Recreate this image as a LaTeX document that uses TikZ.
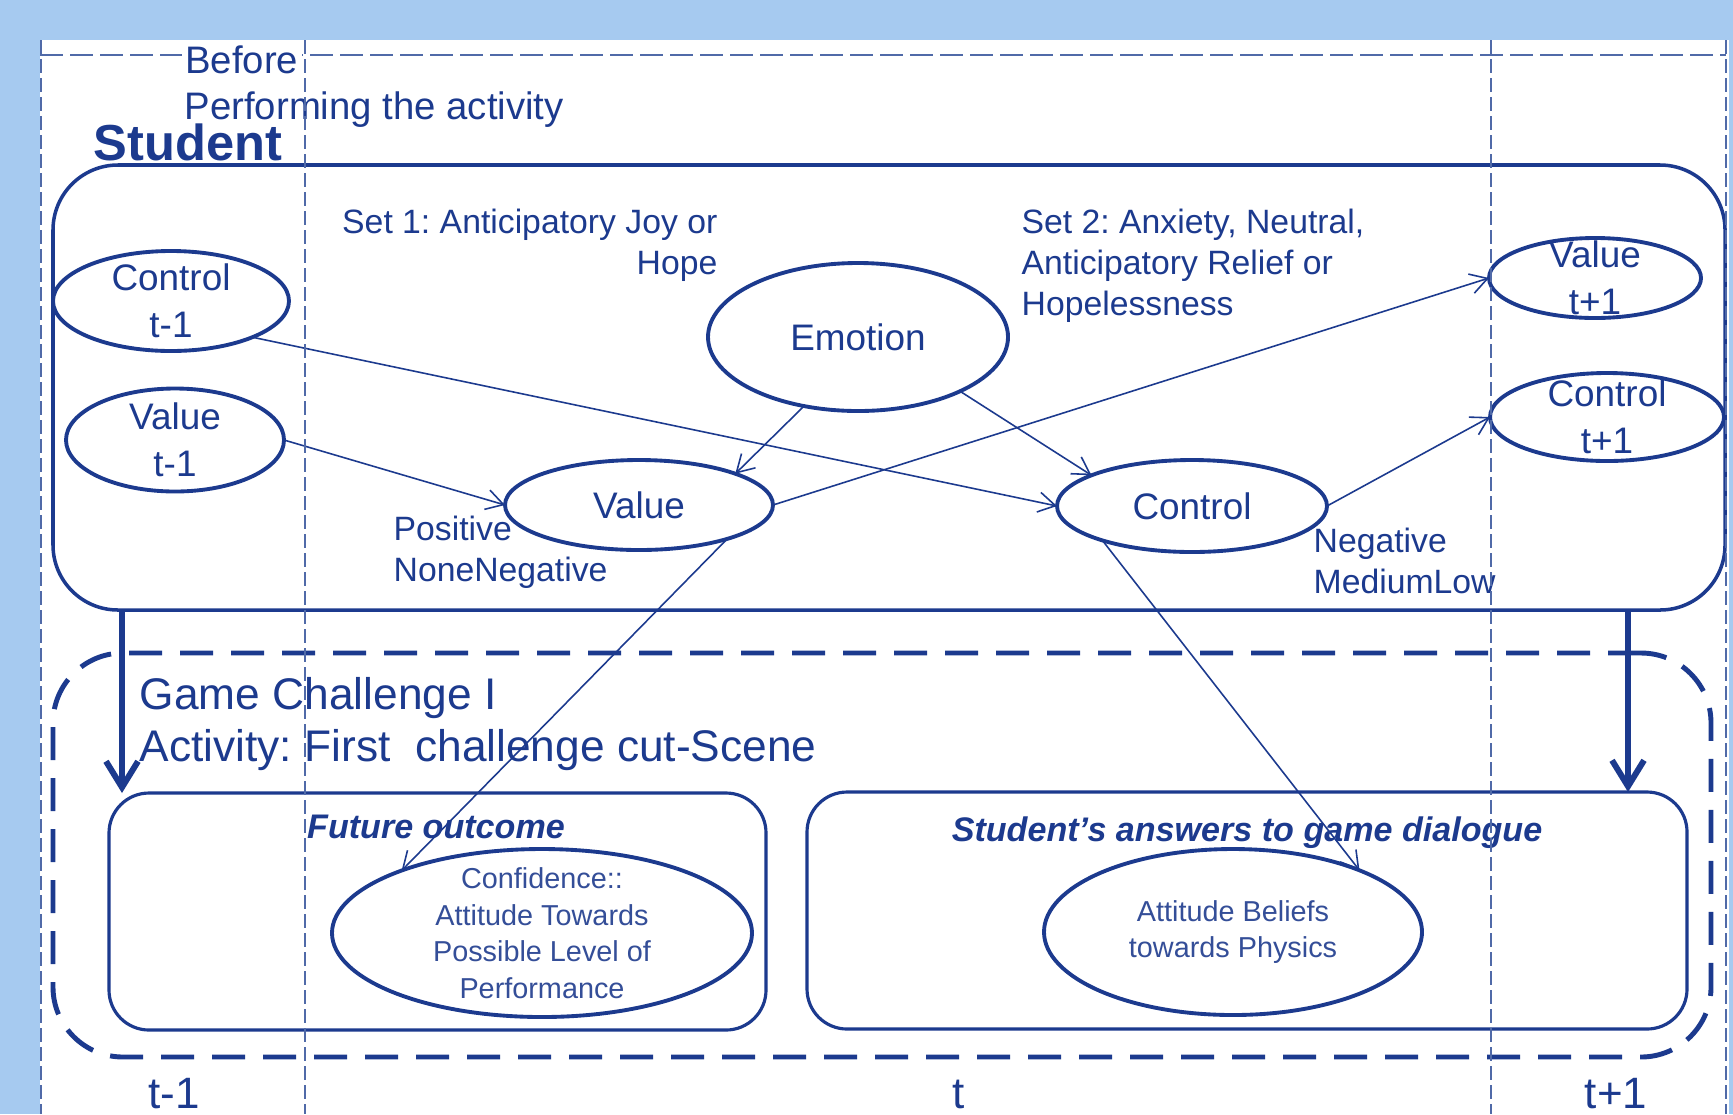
\documentclass[tikz,border=0pt]{standalone}
\usepackage{fontspec}
\setmainfont{Liberation Sans}
\usepackage{xcolor}
\usepackage{tikz}
\usetikzlibrary{shapes,arrows,positioning,calc,arrows.meta}

\definecolor{bgblue}{RGB}{166,202,240}
\definecolor{navy}{RGB}{28,58,142}
\definecolor{gridblue}{RGB}{80,106,168}
\definecolor{softnavy}{RGB}{52,78,152}

\newcommand{\fsz}[2]{\fontsize{#1}{#2}\selectfont}
\frenchspacing

\tikzset{
    txt/.style={text=navy, inner sep=0pt},
    ell/.style={draw=navy, line width=1.1pt, ellipse, inner sep=1pt, outer sep=0pt, text=navy, font=\fsz{10.5}{13.5}},
    lbl/.style={text=navy, align=center, inner sep=0pt, font=\fsz{10.5}{13.5}},
    ovaltext/.style={text=softnavy, align=center, inner sep=0pt, font=\fsz{8.2}{10.4}},
    tagtext/.style={text=navy, inner sep=0pt, font=\fsz{9.6}{11.7}},
    ttl/.style={text=navy, inner sep=0pt, font=\fsz{9.7}{12}\bfseries\itshape},
    bigbox/.style={draw=navy, line width=1pt, rounded corners=0.65cm, outer sep=0pt},
    subbox/.style={draw=navy, line width=0.9pt, rounded corners=0.4cm, outer sep=0pt},
    dashbox/.style={draw=navy, line width=1.4pt, rounded corners=0.7cm, dash pattern=on 0.33cm off 0.18cm},
    arr/.style={draw=navy, line width=0.45pt, -{Straight Barb[length=1.7mm,width=2mm]}},
    bigarr/.style={draw=navy, line width=1.7pt, -{Straight Barb[length=2.6mm,width=3.2mm]}},
    timeline/.style={draw=gridblue, line width=0.55pt, dash pattern=on 0.14cm off 0.05cm}
}

\begin{document}
\begin{tikzpicture}
    \useasboundingbox (0,0) rectangle (17.33,-11.14);
    \fill[bgblue] (0,0) rectangle (17.33,-11.14);
    \fill[white] (0.40,-0.40) rectangle (17.29,-11.14);

    % student side
    \node[bigbox, minimum width=16.72cm, minimum height=4.45cm] (stubox) at (8.89,-3.875) {};
    \node[txt, anchor=west, font=\fsz{14.4}{16}\bfseries] (stu) at (0.93,-1.42) {Student};
    \node[txt, anchor=west, font=\fsz{10.9}{13}] (perf) at (1.84,-1.10) {Performing the activity};

    \node[ell, minimum width=2.36cm, minimum height=1.00cm] (ctprev) at (1.71,-3.01) {};
    \node[lbl] (ctprevtxt) at (ctprev) {Control\\t-1};
    \node[ell, minimum width=2.18cm, minimum height=1.03cm] (vprev) at (1.75,-4.40) {};
    \node[lbl] (vprevtxt) at (vprev) {Value\\t-1};
    \node[ell, minimum width=3.00cm, minimum height=1.48cm] (emo) at (8.58,-3.37) {Emotion};
    \node[ell, minimum width=2.68cm, minimum height=0.90cm] (val) at (6.39,-5.05) {Value};
    \node[ell, minimum width=2.70cm, minimum height=0.92cm] (ctrl) at (11.92,-5.06) {Control};
    \node[ell, minimum width=2.12cm, minimum height=0.80cm] (vnext) at (15.95,-2.78) {};
    \node[lbl] (vnexttxt) at (vnext) {Value\\t+1};
    \node[ell, minimum width=2.34cm, minimum height=0.88cm] (cnext) at (16.07,-4.17) {};
    \node[lbl] (cnexttxt) at (cnext) {Control\\t+1};

    \node[tagtext, anchor=east, align=right] (set1) at (7.18,-2.45) {Set 1: Anticipatory Joy or\\Hope};
    \node[tagtext, anchor=west, align=left] (set2) at (10.21,-2.66) {Set 2: Anxiety, Neutral,\\Anticipatory Relief or\\Hopelessness};
    \node[tagtext, anchor=west, align=left] (valtags) at (3.93,-5.52) {Positive\\NoneNegative};
    \node[tagtext, anchor=west, align=left] (ctrltags) at (13.13,-5.61) {Negative\\MediumLow};

    % game challenge
    \node[dashbox, minimum width=16.58cm, minimum height=4.04cm] (game) at (8.82,-8.55) {};
    \node[txt, anchor=west, align=left, font=\fsz{12.6}{15}] (gametxt) at (1.39,-7.24) {Game Challenge I\\Activity: First~~challenge cut-Scene};
    \node[subbox, minimum width=6.57cm, minimum height=2.37cm] (fut) at (4.375,-9.115) {};
    \node[subbox, minimum width=8.80cm, minimum height=2.37cm] (ans) at (12.47,-9.105) {};
    \node[ttl] (futttl) at (4.36,-8.27) {Future outcome};
    \node[ttl] (ansttl) at (12.47,-8.33) {Student's answers to game dialogue};
    \node[ell, minimum width=4.20cm, minimum height=1.68cm] (conf) at (5.42,-9.33) {};
    \node[ovaltext] (conftxt) at (conf) {Confidence::\\Attitude Towards\\Possible Level of\\Performance};
    \node[ell, minimum width=3.78cm, minimum height=1.66cm] (att) at (12.33,-9.32) {};
    \node[ovaltext] (atttxt) at (att) {Attitude Beliefs\\towards Physics};

    % links
    \draw[arr] (ctprev.-24) -- (ctrl.180);
    \draw[arr] (vprev.east) -- (val.west);
    \draw[arr] (emo.-128) -- (val.18);
    \draw[arr] (emo.-28) -- (ctrl.163);
    \draw[arr] (val.east) -- (vnext.west);
    \draw[arr] (ctrl.east) -- (cnext.west);
    \draw[arr] (val.-21) -- (conf.156);
    \draw[arr] (ctrl.201) -- (att.26);

    \coordinate (ldrop) at (1.22,-6.10);
    \coordinate (rdrop) at (16.28,-6.10);
    \draw[bigarr] (ldrop) -- (ldrop |- fut.north);
    \draw[bigarr] (rdrop) -- (rdrop |- ans.north);

    % time lines
    \draw[timeline, dash pattern=on 0.23cm off 0.07cm] (0.40,-0.55) -- (17.26,-0.55);
    \foreach \x in {0.41,3.05,14.91,17.26}
        \draw[timeline] (\x,-0.40) -- (\x,-11.14);
    \node[txt, anchor=west, fill=white, inner sep=1pt, font=\fsz{10.9}{13}] (before) at (1.81,-0.60) {Before};
    \foreach \t/\x [count=\i] in {t-1/1.74, t/9.59, t+1/16.16}
        \node[txt, anchor=south, font=\fsz{12.5}{15}] (tick\i) at (\x,-11.10) {\t};
\end{tikzpicture}
\end{document}
